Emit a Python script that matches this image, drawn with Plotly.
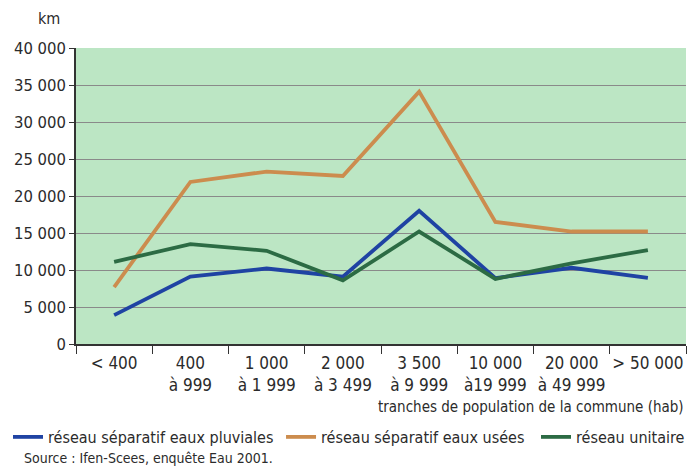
import plotly.graph_objects as go

categories = ["< 400", "400<br>à 999", "1 000<br>à 1 999", "2 000<br>à 3 499",
              "3 500<br>à 9 999", "10 000<br>à19 999", "20 000<br>à 49 999", "> 50 000"]
pluviales = [3900, 9100, 10200, 9100, 18000, 8900, 10300, 8950]
usees = [7700, 21900, 23300, 22700, 34100, 16500, 15200, 15200]
unitaire = [11100, 13500, 12600, 8600, 15200, 8800, 10900, 12700]
names = ["réseau séparatif eaux pluviales", "réseau séparatif eaux usées", "réseau unitaire"]
colors = ["#1f43a3", "#cc8c4e", "#2c6b44"]
legend_ids = ["legend", "legend2", "legend3"]
legend_x = [-0.01, 0.3957, 0.7652]

FONT = "DejaVu Sans Condensed, Liberation Sans Narrow, Roboto, sans-serif"

fig = go.Figure()
for vals, name, col, lid in zip([pluviales, usees, unitaire], names, colors, legend_ids):
    fig.add_trace(go.Scatter(x=categories, y=vals, name=name, mode="lines", legend=lid,
                             line=dict(color=col, width=3.8)))

legend_common = dict(orientation="h", xref="container", yref="container",
                     y=0.0674, yanchor="middle", xanchor="left",
                     font=dict(size=16), itemwidth=30, bgcolor="rgba(0,0,0,0)")

fig.update_layout(
    width=690, height=460,
    margin=dict(l=68, r=12, t=40, b=124),
    paper_bgcolor="white", plot_bgcolor="#bce6c4",
    separators=", ",
    font=dict(family=FONT, size=16, color="#2b2b2b"),
    showlegend=True,
    legend=dict(x=legend_x[0], **legend_common),
    legend2=dict(x=legend_x[1], **legend_common),
    legend3=dict(x=legend_x[2], **legend_common),
    xaxis=dict(type="category", range=[-0.5, 7.5], tickson="boundaries",
               ticks="outside", ticklen=8, tickcolor="#333", showgrid=False,
               showline=True, linecolor="#333", linewidth=1.5, automargin=False,
               tickangle=0, ticklabelstandoff=3, tickfont=dict(size=17)),
    yaxis=dict(range=[0, 40000], dtick=5000, tickformat=",d", ticks="outside",
               ticklen=5, tickcolor="#333", showgrid=True, gridcolor="#8a8a8a",
               gridwidth=1.2, showline=True, linecolor="#333", linewidth=1.5,
               zeroline=False, automargin=False, tickfont=dict(size=16.5)),
    annotations=[
        dict(text="km", xref="paper", yref="paper", x=-0.023, y=1.101, xanchor="right",
             yanchor="middle", showarrow=False, font=dict(size=16)),
        dict(text="tranches de population de la commune (hab)", xref="paper", yref="paper",
             x=1.0, y=-0.213, xanchor="right", yanchor="middle", showarrow=False,
             font=dict(size=15)),
        dict(text="Source : Ifen-Scees, enquête Eau 2001.", xref="paper", yref="paper",
             x=-0.089, y=-0.385, xanchor="left", yanchor="middle", showarrow=False,
             font=dict(size=14)),
    ],
)

fig.write_html("out.html")
